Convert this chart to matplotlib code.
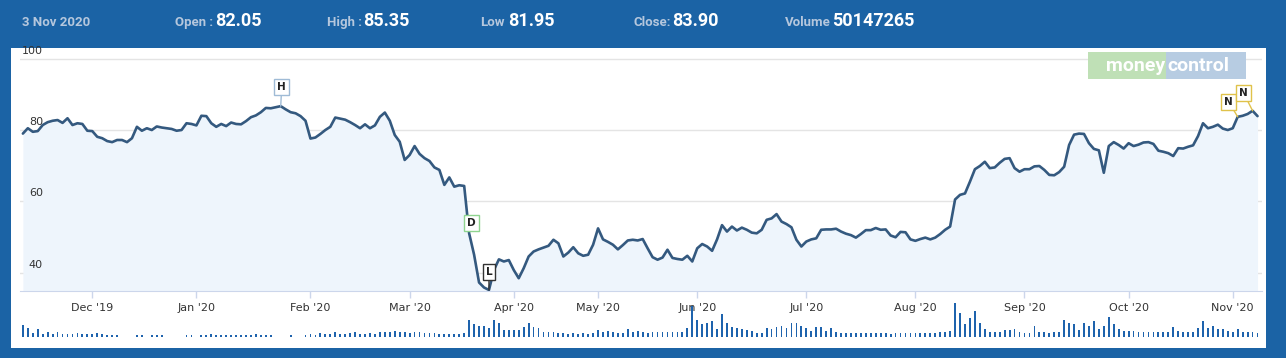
import matplotlib.pyplot as plt
from matplotlib.patches import Rectangle
from matplotlib import transforms

## header values
quote_date = "3 Nov 2020"
quote_open = "82.05"
quote_high = "85.35"
quote_low = "81.95"
quote_close = "83.90"
quote_volume = "50147265"

## closing price, one value per trading day (mid Nov 2019 .. early Nov 2020)
price = [
    79.0, 80.5, 79.5, 79.7, 81.4, 82.2, 82.6, 82.8, 82.0, 83.3,
    81.4, 81.9, 81.7, 79.8, 79.7, 78.1, 77.7, 76.9, 76.6, 77.2,
    77.2, 76.6, 77.7, 80.9, 79.8, 80.5, 80.0, 81.0, 80.7, 80.5,
    80.3, 79.8, 80.0, 81.9, 81.7, 81.3, 84.0, 83.9, 81.9, 80.9,
    81.7, 81.1, 82.1, 81.7, 81.6, 82.5, 83.6, 84.1, 85.0, 86.2,
    86.1, 86.4, 86.7, 85.8, 85.0, 84.7, 83.9, 82.6, 77.6, 77.9,
    78.9, 80.0, 80.9, 83.5, 83.2, 82.9, 82.2, 81.4, 80.5, 81.6,
    80.5, 81.3, 83.7, 84.9, 82.6, 78.6, 76.7, 71.6, 73.0, 75.5,
    73.3, 72.1, 71.3, 69.5, 68.8, 64.6, 66.7, 64.1, 64.5, 64.3,
    51.0, 45.0, 37.2, 35.8, 35.1, 40.7, 43.7, 43.1, 43.5, 40.7,
    38.4, 41.2, 44.5, 45.9, 46.5, 47.0, 47.5, 49.2, 48.2, 44.5,
    45.6, 47.1, 45.4, 44.7, 45.0, 47.8, 52.4, 49.3, 48.6, 47.8,
    46.5, 47.7, 49.0, 49.2, 49.0, 49.4, 46.8, 44.3, 43.6, 44.2,
    46.4, 44.1, 43.8, 43.6, 44.7, 43.1, 46.8, 48.0, 47.3, 46.1,
    49.3, 53.3, 51.5, 52.9, 51.8, 52.6, 52.0, 51.2, 51.0, 52.0,
    54.8, 55.2, 56.4, 54.3, 53.6, 52.7, 49.2, 47.3, 48.7, 49.3,
    49.6, 52.0, 52.1, 52.1, 52.3, 51.5, 50.9, 50.5, 49.8, 50.8,
    51.9, 51.9, 52.5, 52.0, 52.1, 50.4, 49.9, 51.4, 51.3, 49.3,
    48.9, 49.4, 49.8, 49.3, 49.8, 50.8, 52.0, 52.9, 60.5, 61.8,
    62.2, 65.5, 69.0, 69.9, 71.1, 69.3, 69.5, 70.8, 71.9, 72.1,
    69.3, 68.3, 69.0, 69.0, 69.8, 69.9, 68.8, 67.4, 67.3, 68.2,
    69.7, 75.8, 78.7, 79.0, 78.9, 76.3, 74.7, 74.3, 68.0, 75.5,
    76.6, 75.8, 74.8, 76.3, 75.5, 75.9, 76.5, 76.6, 76.1, 74.2,
    73.9, 73.5, 72.7, 74.9, 74.8, 75.3, 75.7, 78.3, 81.9, 80.5,
    80.9, 81.5, 80.4, 80.0, 80.5, 83.7, 84.0, 84.5, 85.4, 83.9,
]

## traded volume in millions, same days
volume = [
    135, 100, 40, 90, 30, 60, 30, 50, 30, 35,
    30, 45, 30, 30, 30, 45, 30, 25, 25, 25,
    0, 0, 0, 25, 25, 0, 25, 25, 25, 0,
    0, 0, 0, 25, 25, 0, 25, 25, 30, 25,
    25, 25, 25, 25, 25, 25, 25, 30, 25, 25,
    25, 0, 0, 0, 25, 0, 0, 25, 30, 25,
    40, 30, 35, 50, 30, 30, 40, 60, 35, 35,
    40, 35, 60, 60, 50, 65, 50, 60, 40, 50,
    60, 40, 40, 40, 30, 30, 30, 30, 30, 40,
    190, 140, 120, 125, 100, 190, 160, 80, 75, 75,
    75, 105, 150, 110, 100, 60, 60, 50, 40, 40,
    35, 40, 35, 40, 35, 40, 75, 60, 70, 50,
    40, 40, 85, 60, 65, 50, 45, 50, 50, 50,
    50, 50, 50, 60, 100, 340, 190, 140, 150, 175,
    90, 250, 150, 110, 100, 90, 75, 70, 40, 40,
    100, 90, 110, 125, 100, 160, 150, 125, 100, 70,
    110, 110, 70, 100, 60, 40, 40, 40, 40, 40,
    40, 40, 40, 40, 40, 30, 40, 40, 40, 40,
    40, 40, 40, 40, 40, 50, 50, 70, 375, 260,
    140, 210, 285, 150, 90, 60, 60, 60, 75, 75,
    85, 50, 40, 40, 125, 50, 50, 40, 50, 50,
    185, 150, 140, 75, 160, 125, 175, 90, 125, 225,
    140, 90, 70, 70, 70, 60, 60, 60, 60, 60,
    50, 60, 110, 70, 60, 50, 60, 100, 175, 100,
    125, 90, 90, 70, 60, 90, 50, 50, 50, 40,
]

days = list(range(len(price)))

## first trading day of each month and its label
month_idx = [14, 35, 58, 78, 99, 116, 136, 158, 180, 202, 223, 244]
month_labels = ["Dec '19", "Jan '20", "Feb '20", "Mar '20", "Apr '20", "May '20",
                "Jun '20", "Jul '20", "Aug '20", "Sep '20", "Oct '20", "Nov '20"]

y_ticks = [40, 60, 80, 100]

## flags on the price line: letter, day, border colour, offset in pixels
flags = [("H", 52, "#9fbbd6", (1, 19)),
         ("D", 90, "#8fd48f", (2, 10)),
         ("L", 94, "#333333", (0, 18)),
         ("N", 245, "#e0c24a", (-9, 15)),
         ("N", 248, "#e0c24a", (-9, 18))]

blue = "#1b63a5"
W, H = 1286, 358

fig = plt.figure(figsize=(W / 100, H / 100), dpi=100, facecolor=blue)

## background layer in pixel coordinates
bg = fig.add_axes([0, 0, 1, 1])
bg.set_xlim(0, W)
bg.set_ylim(H, 0)
bg.axis("off")
bg.add_patch(Rectangle((11, 48), 1255, 300, facecolor="white", edgecolor="none"))

## header line
lab = dict(color="#b5c7dd", fontsize=9.5, family="Roboto", fontweight="bold", va="baseline")
val = dict(color="white", fontsize=13, family="Roboto", fontweight="bold", va="baseline")
bg.text(22, 26, quote_date, **lab)
bg.text(175, 26, "Open :", **lab)
bg.text(215, 26, quote_open, **val)
bg.text(327, 26, "High :", **lab)
bg.text(363, 26, quote_high, **val)
bg.text(480, 26, "Low", **lab)
bg.text(508, 26, quote_low, **val)
bg.text(634, 26, "Close:", **lab)
bg.text(672, 26, quote_close, **val)
bg.text(785, 26, "Volume", **lab)
bg.text(832, 26, quote_volume, **val)

## price chart
ax = fig.add_axes([20 / W, (H - 290.7) / H, 1242 / W, (290.7 - 52) / H])
ax.patch.set_alpha(0)
ax.set_xlim(-0.58, 249.9)
ax.set_ylim(34.9, 101.9)

ax.fill_between(days, price, 34.9, color="#eef5fc", zorder=1, lw=0)
ax.plot(days, price, color="#34597f", lw=1.9, zorder=3,
        solid_joinstyle="round", solid_capstyle="round")

ax.set_yticks(y_ticks)
ax.grid(axis="y", color="#e4e4e4", lw=1)
ax.set_axisbelow(True)
ax.tick_params(axis="y", length=0, labelleft=False)

lbl_trans = transforms.offset_copy(
    transforms.blended_transform_factory(ax.transAxes, ax.transData),
    fig=fig, x=0, y=3, units="dots")
for v in y_ticks:
    ax.text(0.0185, v, str(v), transform=lbl_trans, ha="right", va="bottom",
            fontsize=8, color="#333333")

ax.set_xticks(month_idx)
ax.set_xticklabels(month_labels)
ax.tick_params(axis="x", length=5, width=1, color="#ccd6eb", labelsize=8,
               labelcolor="#333333", pad=3.5)

for s in ["top", "right", "left"]:
    ax.spines[s].set_visible(False)
ax.spines["bottom"].set_color("#ccd6eb")

## flags
for letter, d, col, off in flags:
    ax.annotate(letter, xy=(d, price[d]), xytext=off, textcoords="offset pixels",
                ha="center", va="center", fontsize=7.5, fontweight="bold", color="#222222",
                bbox=dict(boxstyle="square,pad=0.3", fc="white", ec=col, lw=1),
                arrowprops=None if letter == "D" else
                dict(arrowstyle="-", color=col, lw=1, shrinkA=0, shrinkB=0),
                zorder=5)

## moneycontrol logo
ax.add_patch(Rectangle((1088, 52), 78, 27, transform=bg.transData, facecolor="#bfe0b6",
                       edgecolor="none", zorder=4, clip_on=False))
ax.add_patch(Rectangle((1166, 52), 80, 27, transform=bg.transData, facecolor="#b7cce2",
                       edgecolor="none", zorder=4, clip_on=False))
ax.text(1165, 71, "money", transform=bg.transData, ha="right", va="baseline",
        fontsize=14, fontweight="bold", family="Roboto", color="white", zorder=5)
ax.text(1167, 71, "control", transform=bg.transData, ha="left", va="baseline",
        fontsize=14, fontweight="bold", family="Roboto", color="white", zorder=5)

## volume bars
ax_v = fig.add_axes([20 / W, (H - 337) / H, 1242 / W, 37 / H])
ax_v.patch.set_alpha(0)
ax_v.bar(days, volume, width=0.36, color="#1e63ad")
ax_v.set_xlim(-0.58, 249.9)
ax_v.set_ylim(0, max(volume) * 1.09)
ax_v.axis("off")

plt.savefig("out.png", dpi=100, facecolor=blue)
